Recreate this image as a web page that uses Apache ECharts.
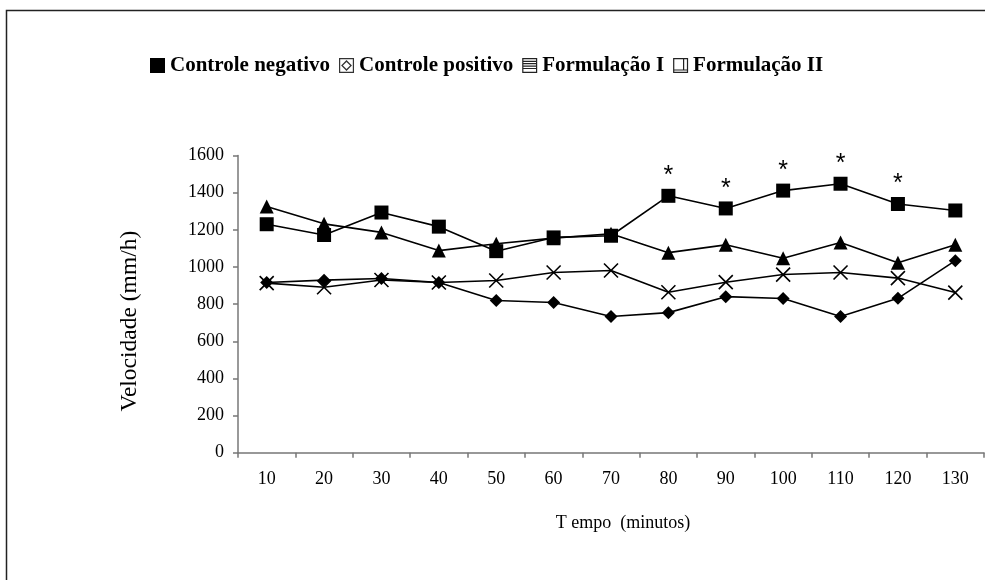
<!DOCTYPE html>
<html>
<head>
<meta charset="utf-8">
<script src="https://cdn.jsdelivr.net/npm/echarts@6/dist/echarts.min.js"></script>
<style>html,body{margin:0;padding:0;background:#fff;}#c{width:985px;height:580px;}</style>
</head>
<body>
<div id="c"></div>
<script>
var categories = ['10','20','30','40','50','60','70','80','90','100','110','120','130'];
var controleNegativo = [916, 929, 938, 916, 819, 809, 733, 754, 840, 830, 733, 831, 1034];
var controlePositivo = [1230, 1172, 1293, 1217, 1085, 1159, 1168, 1383, 1315, 1411, 1448, 1339, 1304];
var formulacaoI = [1326, 1232, 1186, 1088, 1125, 1155, 1179, 1077, 1119, 1047, 1132, 1023, 1119];
var formulacaoII = [913, 891, 930, 916, 927, 970, 981, 864, 918, 959, 970, 940, 862];
var significant = ['80','90','100','110','120'];
var yTicks = {min: 0, max: 1600, interval: 200};

var serif = 'Liberation Serif';
var iconPos = 'path://M0,0H100V100H0Z M8,8V92H92V8Z M50,14L86,50L50,86L14,50Z M50,26L26,50L50,74L74,50Z';
var iconF1 = 'path://M0,0H100V100H0Z M8,8V92H92V8Z M8,18H92V26H8Z M8,34H92V42H8Z M8,50H92V58H8Z M8,66H92V74H8Z';
var iconF2 = 'path://M0,0H100V100H0Z M8,8V92H92V8Z M66,8H74V76H66Z M8,76H92V84H8Z';
var crossPath = 'path://M0,0L10,10M10,0L0,10';

var chart = echarts.init(document.getElementById('c'));

function lineSeries(name, data, symbol, size, extra) {
  var s = {
    name: name,
    type: 'line',
    data: data,
    symbol: symbol,
    symbolSize: size,
    showAllSymbol: true,
    lineStyle: {color: '#000', width: 1.6},
    itemStyle: {color: '#000', borderColor: '#000', borderWidth: 0},
    emphasis: {disabled: true},
    animation: false,
    z: 3
  };
  if (extra) Object.assign(s, extra);
  return s;
}

var posData = controlePositivo.map(function (v, i) {
  var item = {value: v};
  if (significant.indexOf(categories[i]) >= 0) {
    item.label = {show: true, formatter: '*', position: 'top', distance: 0,
      fontFamily: 'Liberation Sans', fontSize: 25, color: '#000'};
  }
  return item;
});

var option = {
  backgroundColor: '#fff',
  animation: false,
  graphic: [{
    type: 'rect', left: 4, top: 8,
    shape: {width: 1000, height: 600},
    style: {fill: 'none', stroke: '#222', lineWidth: 1.5},
    silent: true
  }],
  legend: {
    left: 145, top: 50,
    itemWidth: 15, itemHeight: 15, itemGap: 9,
    textStyle: {fontFamily: serif, fontWeight: 'bold', fontSize: 21, color: '#000'},
    data: [
      {name: 'Controle negativo', icon: 'rect', itemStyle: {color: '#000', borderWidth: 0}},
      {name: 'Controle positivo', icon: iconPos, itemStyle: {color: '#333', borderWidth: 0}},
      {name: 'Formulação I', icon: iconF1, itemStyle: {color: '#222', borderWidth: 0}},
      {name: 'Formulação II', icon: iconF2, itemStyle: {color: '#222', borderWidth: 0}}
    ],
    selectedMode: false
  },
  grid: {left: 238, right: 1, top: 155.5, bottom: 127.3, containLabel: false},
  xAxis: {
    type: 'category',
    data: categories,
    boundaryGap: true,
    name: 'T empo  (minutos)',
    nameLocation: 'middle',
    nameGap: 62,
    nameTextStyle: {fontFamily: serif, fontSize: 18, color: '#000', padding: [0, 0, 0, 24]},
    axisLine: {show: true, lineStyle: {color: '#777', width: 1.5}},
    axisTick: {show: true, alignWithLabel: false, length: 5, lineStyle: {color: '#777', width: 1.5}},
    axisLabel: {fontFamily: serif, fontSize: 18, color: '#000', margin: 18, interval: 0},
    splitLine: {show: false}
  },
  yAxis: {
    type: 'value',
    min: yTicks.min, max: yTicks.max, interval: yTicks.interval,
    name: 'Velocidade (mm/h)',
    nameLocation: 'middle',
    nameGap: 96,
    nameTextStyle: {fontFamily: serif, fontSize: 23.5, color: '#000', padding: [0, 34, 0, 0]},
    axisLine: {show: true, lineStyle: {color: '#777', width: 1.5}},
    axisTick: {show: true, length: 5, lineStyle: {color: '#777', width: 1.5}},
    axisLabel: {fontFamily: serif, fontSize: 18, color: '#000', margin: 14,
      formatter: function (v) { return String(v); }},
    splitLine: {show: false}
  },
  series: [
    lineSeries('Controle negativo', controleNegativo, 'diamond', 13),
    lineSeries('Controle positivo', posData, 'rect', 14),
    lineSeries('Formulação I', formulacaoI, 'triangle', 14),
    lineSeries('Formulação II', formulacaoII, crossPath, 14, {
      itemStyle: {color: 'none', borderColor: '#000', borderWidth: 1.6}
    })
  ]
};
chart.setOption(option);
</script>
</body>
</html>
